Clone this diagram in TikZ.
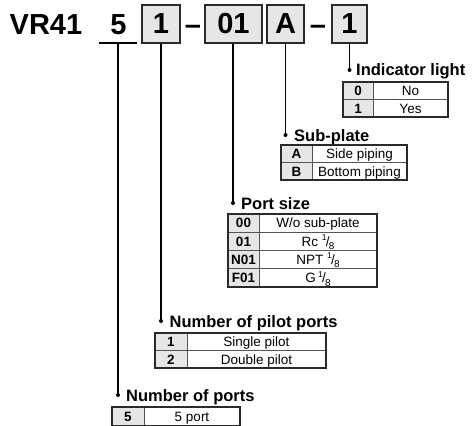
\documentclass[tikz,border=0pt]{standalone}
\usepackage{fontspec}
\setmainfont{Liberation Sans}
\definecolor{boxfill}{HTML}{E6E6E6}
\definecolor{rulec}{HTML}{2A2A2A}
\definecolor{innerc}{HTML}{555555}
\newcommand\eighth{\raisebox{0.42em}{\fontsize{8.5}{8.5}\selectfont 1}\kern-0.6pt/\kern-0.8pt\raisebox{-0.25em}{\fontsize{10}{10}\selectfont 8}}
\newcommand\wosub{W/o sub-plate}
\tikzset{
  hdr/.style={font=\bfseries\fontsize{29}{29}\selectfont, inner sep=0pt},
  codebox/.style={draw=rulec, line width=1.2pt, fill=boxfill, minimum height=38pt, inner sep=0pt, font=\bfseries\fontsize{29}{29}\selectfont},
  conn/.style={line width=1.2pt, draw=black},
  title/.style={font=\bfseries\fontsize{16.5}{16.5}\selectfont, inner sep=0pt, anchor=base west},
  codetxt/.style={font=\bfseries\fontsize{13.5}{13.5}\selectfont, inner sep=0pt, anchor=base},
  desctxt/.style={font=\fontsize{13.5}{13.5}\selectfont, inner sep=0pt, anchor=base},
  outer/.style={draw=rulec, line width=1.3pt},
  inner/.style={draw=innerc, line width=0.8pt},
}
% #1 prefix, #2 left, #3 divider, #4 right, #5 top, #6 row height, #7 number of rows, #8 rows code/desc
\newcommand\spectab[8]{%
  \pgfmathsetmacro\tabB{#5+#7*#6}%
  \fill[boxfill] (#2,#5) rectangle (#3,\tabB);
  \foreach \c/\d [count=\i] in {#8} {
    \pgfmathsetmacro\rowy{#5+(\i-0.5)*#6+4.8}
    \pgfmathsetmacro\cx{(#2+#3)/2}
    \pgfmathsetmacro\dx{(#3+#4)/2}
    \node[codetxt] (#1c\i) at (\cx,\rowy) {\c};
    \node[desctxt] (#1d\i) at (\dx,\rowy) {\d};
  }
  \pgfmathtruncatemacro\nm{#7-1}
  \ifnum\nm>0
    \foreach \i in {1,...,\nm} {
      \pgfmathsetmacro\ly{#5+\i*#6}
      \draw[inner] (#2,\ly) -- (#4,\ly);
    }
  \fi
  \draw[inner] (#3,#5) -- (#3,\tabB);
  \draw[outer] (#2,#5) rectangle (#4,\tabB);
}
\begin{document}
\begin{tikzpicture}[x=1pt,y=-1pt]
\useasboundingbox (0,0) rectangle (473,425);

% header
\node[hdr, anchor=base west] (vr) at (9.5,35) {VR41};
\node[hdr, anchor=base] (n5) at (118.5,35) {5};
\node[codebox, minimum width=38pt] (b1) at (161,24) {1};
\node[hdr, anchor=base] (dash1) at (193,35) {–};
\node[codebox, minimum width=57pt] (b01) at (233.5,24) {01};
\node[codebox, minimum width=37pt] (bA) at (285.5,24) {A};
\node[hdr, anchor=base] (dash2) at (318,35) {–};
\node[codebox, minimum width=35pt] (bL) at (349.5,24) {1};

% underline of 5
\coordinate (u5a) at (99,43);
\coordinate (u5b) at (137,43);
\coordinate (u5) at (118,43);
\draw[conn] (u5a) -- (u5b);

% dots
\coordinate (dL) at (349.5,70);
\coordinate (dA) at (285.5,135);
\coordinate (d01) at (233,203);
\coordinate (d1) at (161,321);
\coordinate (d5) at (118,395);

\draw[conn] (bL.south) -- (dL);
\draw[conn] (bA.south) -- (dA);
\draw[conn] (b01.south -| d01) -- (d01);
\draw[conn] (b1.south) -- (d1);
\draw[conn] (u5) -- (d5);
\foreach \p in {dL,dA,d01,d1,d5} \fill (\p) circle (2pt);

% titles
\node[title] (tL) at (356,75.5) {Indicator light};
\node[title] (tA) at (294,141) {Sub-plate};
\node[title] (t01) at (241,209) {Port size};
\node[title] (t1) at (169.5,327) {Number of pilot ports};
\node[title] (t5) at (126,401) {Number of ports};

% tables
\spectab{tL}{343}{373}{448}{82}{17.5}{2}{0/No,1/Yes}
\spectab{tA}{281}{312}{407}{145}{17.5}{2}{A/Side piping,B/Bottom piping}
\spectab{tP}{228}{259}{377}{214}{18.25}{4}{00/\wosub,01/Rc \eighth,N01/NPT \eighth,F01/G\,\eighth}
\spectab{tN}{155}{187}{326}{333}{17.5}{2}{1/Single pilot,2/Double pilot}
\spectab{tF}{112}{144}{240}{407}{18.5}{1}{5/5 port}
\end{tikzpicture}
\end{document}
